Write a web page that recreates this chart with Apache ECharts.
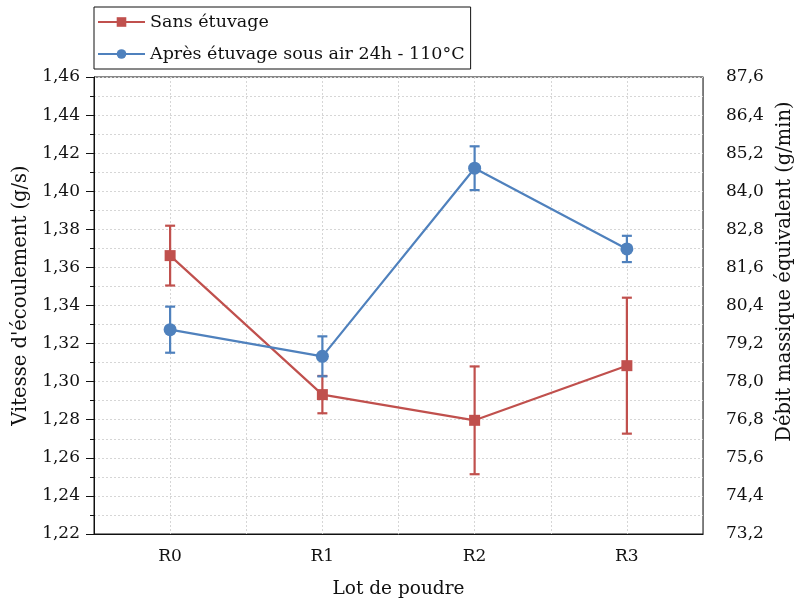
<!DOCTYPE html>
<html><head><meta charset="utf-8">
<script src="https://cdn.jsdelivr.net/npm/echarts@6/dist/echarts.min.js"></script>
<style>html,body{margin:0;padding:0;background:#fff}#c{width:794px;height:600px}</style>
</head><body><div id="c"></div>
<script>
const categories = ['R0', 'R1', 'R2', 'R3'];
const seriesNames = ['Sans étuvage', 'Après étuvage sous air 24h - 110°C'];
const sansEtuvage = [1.3662, 1.2932, 1.2797, 1.3084];
const sansEtuvageErr = [0.0157, 0.0098, 0.0283, 0.0357];
const apresEtuvage = [1.3273, 1.3133, 1.4121, 1.3697];
const apresEtuvageErr = [0.0121, 0.0105, 0.0115, 0.0069];
const leftTicks = { min: 1.22, max: 1.46, interval: 0.02 };
const rightTicks = { min: 73.2, max: 87.6, interval: 1.2 };
const axisTitles = { x: 'Lot de poudre', left: "Vitesse d'écoulement (g/s)", right: 'Débit massique équivalent (g/min)' };

const FONT = 'DejaVu Serif';
const RED = '#C0504D', BLUE = '#4F81BD';
const GRIDLINE = { show: true, lineStyle: { color: '#d6d6d6', type: [2, 2], width: 1 } };

function errData(vals, errs) { return vals.map((v, i) => [i, v - errs[i], v + errs[i]]); }
function errSeries(vals, errs, color) {
  return {
    type: 'custom', xAxisIndex: 0, yAxisIndex: 0, z: 2, silent: true,
    data: errData(vals, errs),
    renderItem: function (params, api) {
      const hi = api.coord([api.value(0), api.value(2)]);
      const lo = api.coord([api.value(0), api.value(1)]);
      const hw = 5;
      const st = { stroke: color, lineWidth: 2.2, fill: null };
      return { type: 'group', children: [
        { type: 'line', shape: { x1: hi[0], y1: hi[1], x2: lo[0], y2: lo[1] }, style: st },
        { type: 'line', shape: { x1: hi[0] - hw, y1: hi[1], x2: hi[0] + hw, y2: hi[1] }, style: st },
        { type: 'line', shape: { x1: lo[0] - hw, y1: lo[1], x2: lo[0] + hw, y2: lo[1] }, style: st }
      ]};
    }
  };
}

const chart = echarts.init(document.getElementById('c'), null, { renderer: 'canvas' });
chart.setOption({
  animation: false,
  textStyle: { fontFamily: FONT },
  grid: { left: 94, right: 91, top: 77, bottom: 66, outerBoundsMode: 'none', containLabel: false,
    show: true, borderColor: '#111', borderWidth: 1, backgroundColor: 'transparent' },
  legend: {
    data: seriesNames, orient: 'vertical', left: 94, top: 7,
    borderColor: '#111', borderWidth: 1, borderRadius: 0, padding: [6, 6, 6, 3],
    itemWidth: 47, itemHeight: 12, itemGap: 14,
    textStyle: { fontFamily: FONT, fontSize: 17.5, color: '#111' }
  },
  xAxis: [{
    type: 'category', data: categories, position: 'bottom',
    axisLine: { lineStyle: { color: '#111', width: 1 } },
    axisTick: { alignWithLabel: true, length: 8, lineStyle: { color: '#111' } },
    axisLabel: { fontFamily: FONT, fontSize: 17, color: '#111', margin: 14 },
    splitLine: Object.assign({ alignWithLabel: true }, GRIDLINE),
    name: axisTitles.x, nameLocation: 'middle', nameGap: 46,
    nameTextStyle: { fontFamily: FONT, fontSize: 18.5, color: '#111' }
  }, {
    type: 'category', data: categories, position: 'bottom',
    axisLine: { show: false },
    axisTick: { length: 4, lineStyle: { color: '#111' } },
    axisLabel: { show: false },
    splitLine: GRIDLINE
  }],
  yAxis: [{
    type: 'value', min: leftTicks.min, max: leftTicks.max, interval: leftTicks.interval, position: 'left',
    axisLine: { show: true, lineStyle: { color: '#111' } },
    axisTick: { show: true, length: 8, lineStyle: { color: '#111' } },
    minorTick: { show: true, splitNumber: 2, length: 4, lineStyle: { color: '#111' } },
    splitLine: GRIDLINE,
    minorSplitLine: GRIDLINE,
    axisLabel: { fontFamily: FONT, fontSize: 17, color: '#111', margin: 14,
      formatter: v => v.toFixed(2).replace('.', ',') },
    name: axisTitles.left, nameLocation: 'middle', nameGap: 60, nameRotate: 90,
    nameTextStyle: { fontFamily: FONT, fontSize: 19.5, color: '#111', padding: [0, 0, 0, 20] }
  }, {
    type: 'value', min: rightTicks.min, max: rightTicks.max, interval: rightTicks.interval, position: 'right',
    axisLine: { show: true, lineStyle: { color: '#777' } },
    axisTick: { show: false },
    splitLine: { show: false },
    axisLabel: { fontFamily: FONT, fontSize: 17, color: '#111', margin: 23,
      formatter: v => v.toFixed(1).replace('.', ',') },
    name: axisTitles.right, nameLocation: 'middle', nameGap: 59, nameRotate: 90,
    nameTextStyle: { fontFamily: FONT, fontSize: 19.5, color: '#111', padding: [0, 0, 0, 68] }
  }],
  series: [
    errSeries(sansEtuvage, sansEtuvageErr, RED),
    errSeries(apresEtuvage, apresEtuvageErr, BLUE),
    { name: seriesNames[0], type: 'line', data: sansEtuvage, z: 3,
      symbol: 'rect', symbolSize: 11, itemStyle: { color: RED }, lineStyle: { color: RED, width: 2.2 } },
    { name: seriesNames[1], type: 'line', data: apresEtuvage, z: 3,
      symbol: 'circle', symbolSize: 13, itemStyle: { color: BLUE }, lineStyle: { color: BLUE, width: 2.2 } }
  ]
});
</script></body></html>
